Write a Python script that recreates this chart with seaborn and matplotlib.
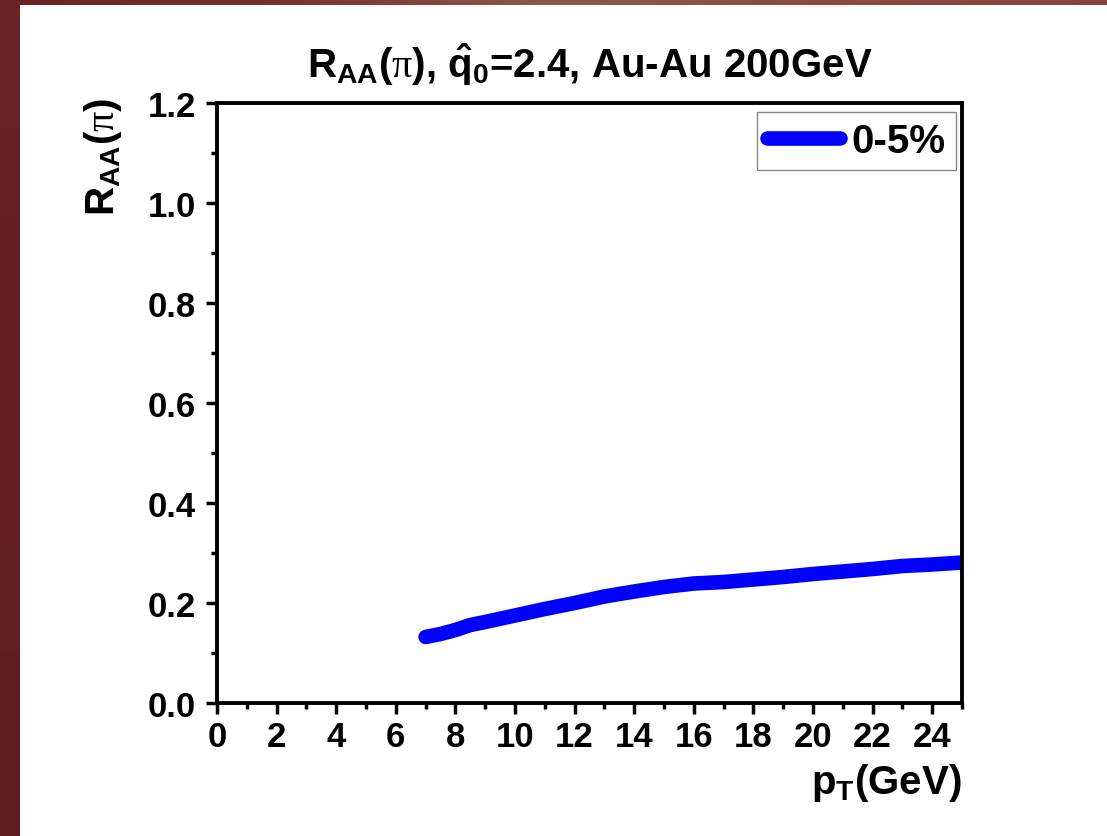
import numpy as np
import pandas as pd
import matplotlib
matplotlib.use("Agg")
import matplotlib.pyplot as plt
import seaborn as sns
from matplotlib.ticker import MultipleLocator

# ---- data ----
pt = [7.0, 7.5, 8.0, 8.5, 9.0, 10.0, 11.0, 12.0, 13.0, 14.0, 15.0, 16.0,
      17.0, 18.0, 19.0, 20.0, 21.0, 22.0, 23.0, 24.0, 25.0]
raa = [0.132, 0.138, 0.146, 0.156, 0.162, 0.175, 0.188, 0.200, 0.213, 0.223,
       0.232, 0.239, 0.242, 0.247, 0.252, 0.258, 0.263, 0.268, 0.274, 0.277, 0.281]
series_label = "0-5%"
x_ticks = [0, 2, 4, 6, 8, 10, 12, 14, 16, 18, 20, 22, 24]
y_ticks = [0.0, 0.2, 0.4, 0.6, 0.8, 1.0, 1.2]

df = pd.DataFrame({"pT": pt, "RAA": raa, "cent": series_label})

sns.set_style("ticks")
plt.rcParams["font.family"] = ["Liberation Sans", "DejaVu Sans"]
plt.rcParams["font.weight"] = "bold"
plt.rcParams["text.color"] = "black"
plt.rcParams["axes.labelcolor"] = "black"
plt.rcParams["xtick.color"] = "black"
plt.rcParams["ytick.color"] = "black"
plt.rcParams["mathtext.fontset"] = "custom"
plt.rcParams["mathtext.rm"] = "Liberation Serif:normal"
plt.rcParams["mathtext.bf"] = "Liberation Sans:bold"
plt.rcParams["mathtext.it"] = "Liberation Sans:bold"
plt.rcParams["mathtext.sf"] = "Liberation Sans:bold"
plt.rcParams["lines.solid_capstyle"] = "round"

W, H = 1107, 837
fig = plt.figure(figsize=(W / 100, H / 100), dpi=100)
fig.patch.set_facecolor("white")

# slide decoration: dark red strips on the left and top
strip_l = fig.add_axes([0, 0, 20 / W, 1])
strip_l.imshow(np.linspace(0, 1, 50).reshape(-1, 1), aspect="auto",
               cmap=matplotlib.colors.LinearSegmentedColormap.from_list(
                   "l", ["#6a2226", "#5c1e1f"]), extent=[0, 1, 0, 1])
strip_l.axis("off")
strip_t = fig.add_axes([0, 1 - 6 / H, 1, 6 / H])
strip_t.imshow(np.linspace(0, 1, 200).reshape(1, -1), aspect="auto",
               cmap=matplotlib.colors.LinearSegmentedColormap.from_list(
                   "t", ["#6b2226", "#7a3030", "#8c5a4a", "#8a4a40", "#8b4040"]),
               extent=[0, 1, 0, 1])
strip_t.axis("off")

ax = fig.add_axes([217 / W, 1 - 704 / H, (962 - 217) / W, (704 - 104) / H])

sns.lineplot(data=df, x="pT", y="RAA", hue="cent", palette=["#0000ff"],
             linewidth=10.5, ax=ax, solid_capstyle="round")

ax.set_xlim(0, 25)
ax.set_ylim(0, 1.2)
ax.set_xticks(x_ticks)
ax.set_yticks(y_ticks)
ax.set_xticklabels([str(t) for t in x_ticks])
ax.set_yticklabels([f"{t:.1f}" for t in y_ticks])
ax.xaxis.set_minor_locator(MultipleLocator(1))
ax.yaxis.set_minor_locator(MultipleLocator(0.1))

for s in ax.spines.values():
    s.set_linewidth(2.8)
    s.set_color("black")
    s.set_visible(True)
ax.tick_params(axis="both", which="major", direction="out", length=8, width=2.5,
               labelsize=25, pad=4, colors="black")
ax.tick_params(axis="y", which="major", pad=7)
ax.tick_params(axis="both", which="minor", direction="out", length=4.5, width=2.5)
ax.tick_params(top=False, right=False, which="both")
for lab in ax.get_xticklabels() + ax.get_yticklabels():
    lab.set_fontweight("bold")

ax.set_title(r"$\mathbf{R_{AA}}$($\mathrm{\pi}$), $\mathbf{\hat{q}_0}$=2.4, Au-Au 200GeV",
             fontsize=29, fontweight="bold", pad=19, color="black")

ax.set_xlabel(r"$\mathbf{p_T}$(GeV)", fontsize=29, fontweight="bold")
ax.xaxis.set_label_coords(1.0, -0.132)
ax.xaxis.label.set_ha("right")
ax.xaxis.label.set_va("center")

ax.set_ylabel(r"$\mathbf{R_{AA}}$($\mathrm{\pi}$)", fontsize=29, fontweight="bold")
ax.yaxis.set_label_coords(-0.153, 0.912)
ax.yaxis.label.set_va("center")
ax.yaxis.label.set_ha("center")

leg = ax.legend(loc="upper right", bbox_to_anchor=(0.992, 0.985), frameon=True,
                fancybox=False, borderpad=0.25, handlelength=1.8, handletextpad=0.3,
                borderaxespad=0, prop={"family": "Liberation Sans", "weight": "bold", "size": 29})
leg.get_frame().set_edgecolor("#888888")
leg.get_frame().set_linewidth(1.0)
leg.get_frame().set_alpha(1)
for h in leg.get_lines():
    h.set_linewidth(10.5)
    h.set_solid_capstyle("round")

fig.savefig("out.png", dpi=100)
